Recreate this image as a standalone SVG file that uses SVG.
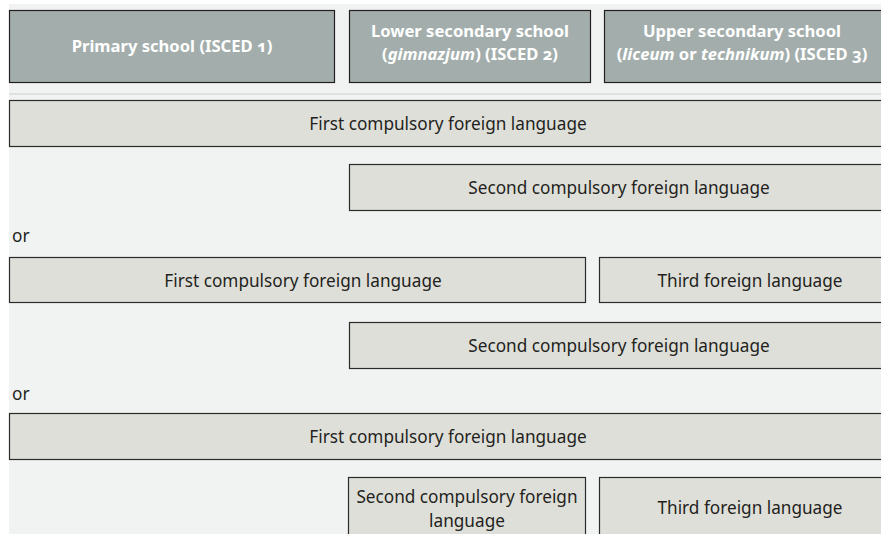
<svg xmlns="http://www.w3.org/2000/svg" width="881" height="534" viewBox="0 0 881 534">
<style>
.hd{fill:#a3aeac;stroke:#231f20;stroke-width:1.2}
.bx{fill:#dfdfda;stroke:#2b2b2b;stroke-width:1.2}
.ht{font-family:"Noto Sans","Open Sans",sans-serif;font-weight:bold;font-size:16.6px;fill:#ffffff;text-anchor:middle;font-feature-settings:"onum";font-variant-numeric:oldstyle-nums}
.t{font-family:"Noto Sans","Open Sans",sans-serif;font-size:17.2px;fill:#231f20;text-anchor:middle}
.or{font-family:"Noto Sans","Open Sans",sans-serif;font-size:17.2px;fill:#231f20}
</style>
<rect x="0" y="0" width="881" height="534" fill="#ffffff"/>
<rect x="9" y="4" width="872" height="530" fill="#f1f2f2"/>
<line x1="9" y1="94" x2="881" y2="94" stroke="#d8dbdb" stroke-width="1.5"/>
<g id="hdr-primary">
<rect class="hd" x="9.5" y="10.5" width="325" height="72"/>
<text class="ht" x="172" y="52">Primary school (ISCED 1)</text>
</g>
<g id="hdr-lower">
<rect class="hd" x="349.5" y="10.5" width="241" height="72"/>
<text class="ht" x="470" y="36.5">Lower secondary school</text>
<text class="ht" x="470" y="60">(<tspan font-style="italic">gimnazjum</tspan>) (ISCED 2)</text>
</g>
<g id="hdr-upper">
<rect class="hd" x="604.5" y="10.5" width="280" height="72"/>
<text class="ht" x="742" y="36.5">Upper secondary school</text>
<text class="ht" x="742" y="60">(<tspan font-style="italic">liceum</tspan> or <tspan font-style="italic">technikum</tspan>) (ISCED 3)</text>
</g>
<g id="r1-first">
<rect class="bx" x="9.5" y="100.5" width="880" height="46"/>
<text class="t" x="448" y="129.5">First compulsory foreign language</text>
</g>
<g id="r1-second">
<rect class="bx" x="349.5" y="164.5" width="540" height="46"/>
<text class="t" x="619" y="193.5">Second compulsory foreign language</text>
</g>
<text class="or" x="12" y="242">or</text>
<g id="r2-first">
<rect class="bx" x="9.5" y="257.5" width="576" height="45"/>
<text class="t" x="303" y="286.5">First compulsory foreign language</text>
</g>
<g id="r2-third">
<rect class="bx" x="599.5" y="257.5" width="290" height="45"/>
<text class="t" x="750" y="286.5">Third foreign language</text>
</g>
<g id="r2-second">
<rect class="bx" x="349.5" y="322.5" width="540" height="46"/>
<text class="t" x="619" y="351.5">Second compulsory foreign language</text>
</g>
<text class="or" x="12" y="400">or</text>
<g id="r3-first">
<rect class="bx" x="9.5" y="413.5" width="880" height="46"/>
<text class="t" x="448" y="442.5">First compulsory foreign language</text>
</g>
<g id="r3-second">
<rect class="bx" x="348.5" y="477.5" width="237" height="70"/>
<text class="t" x="467" y="503">Second compulsory foreign</text>
<text class="t" x="467" y="527">language</text>
</g>
<g id="r3-third">
<rect class="bx" x="599.5" y="477.5" width="290" height="70"/>
<text class="t" x="750" y="514">Third foreign language</text>
</g>
<g id="connectors"></g>
</svg>
